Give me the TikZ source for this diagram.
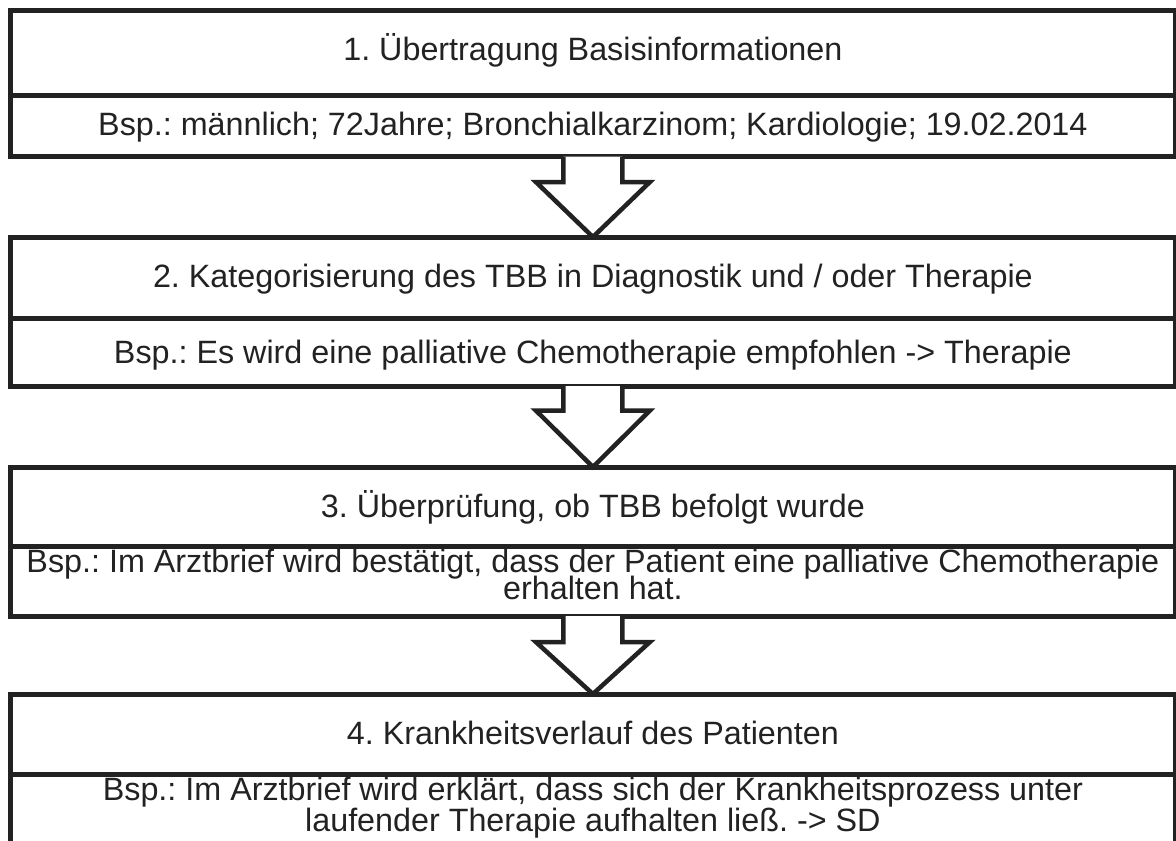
\documentclass[tikz,border=0pt]{standalone}
\usepackage{fontspec}
\setmainfont{Liberation Sans}
\usetikzlibrary{calc}
\definecolor{ink}{HTML}{222222}
\frenchspacing
\begin{document}
\begin{tikzpicture}[x=1pt,y=-1pt,
  box/.style={draw=ink, line width=5pt, fill=white, outer sep=0pt, inner sep=0pt,
    minimum width=1164.2pt, anchor=north west},
  divider/.style={draw=ink, line width=5pt},
  txt/.style={anchor=base, text=ink, font=\fontsize{32.3}{36}\selectfont, inner sep=0pt},
  flow/.style={draw=ink, line width=4.5pt, fill=white, line join=miter}]
\clip (0,0) rectangle (1176,841);
\fill[white] (0,0) rectangle (1176,841);
% boxes
\node[box, minimum height=146.5pt] (b1) at (10.8,10) {};
\node[box, minimum height=149pt] (b2) at (10.8,237) {};
\node[box, minimum height=149pt] (b3) at (10.8,467) {};
\node[box, minimum height=200pt] (b4) at (10.8,694) {};
% dividers
\draw[divider] ($(b1.north west)+(0,85)$) -- ($(b1.north east)+(0,85)$);
\draw[divider] ($(b2.north west)+(0,81)$) -- ($(b2.north east)+(0,81)$);
\draw[divider] ($(b3.north west)+(0,79)$) -- ($(b3.north east)+(0,79)$);
\draw[divider] ($(b4.north west)+(0,80)$) -- ($(b4.north east)+(0,80)$);
% texts
\node[txt] (t1) at ($(b1.north)+(0,50)$) {1. Übertragung Basisinformationen};
\node[txt] (e1) at ($(b1.north)+(0,125.5)$) {Bsp.: männlich; 72Jahre; Bronchialkarzinom; Kardiologie; 19.02.2014};
\node[txt] (t2) at ($(b2.north)+(0,50)$) {2. Kategorisierung des TBB in Diagnostik und / oder Therapie};
\node[txt] (e2) at ($(b2.north)+(0,126)$) {Bsp.: Es wird eine palliative Chemotherapie empfohlen -> Therapie};
\node[txt] (t3) at ($(b3.north)+(0,50)$) {3. Überprüfung, ob TBB befolgt wurde};
\node[txt] (e3a) at ($(b3.north)+(0,105)$) {Bsp.: Im Arztbrief wird bestätigt, dass der Patient eine palliative Chemotherapie};
\node[txt] (e3b) at ($(b3.north)+(0,132.5)$) {erhalten hat.};
\node[txt] (t4) at ($(b4.north)+(0,50)$) {4. Krankheitsverlauf des Patienten};
\node[txt] (e4a) at ($(b4.north)+(0,106.5)$) {Bsp.: Im Arztbrief wird erklärt, dass sich der Krankheitsprozess unter};
\node[txt] (e4b) at ($(b4.north)+(0,137.5)$) {laufender Therapie aufhalten ließ. -> SD};
% arrows
\draw[flow] ($(b1.south)+(-29.5,0)$) |- ($(b1.south)+(-57,25.5)$) -- (b2.north)
  -- ($(b1.south)+(57,25.5)$) -| ($(b1.south)+(29.5,0)$);
\draw[flow] ($(b2.south)+(-29.5,0)$) |- ($(b2.south)+(-57,24.5)$) -- (b3.north)
  -- ($(b2.south)+(57,24.5)$) -| ($(b2.south)+(29.5,0)$);
\draw[flow] ($(b3.south)+(-29.5,0)$) |- ($(b3.south)+(-57,26)$) -- (b4.north)
  -- ($(b3.south)+(57,26)$) -| ($(b3.south)+(29.5,0)$);
\end{tikzpicture}
\end{document}
